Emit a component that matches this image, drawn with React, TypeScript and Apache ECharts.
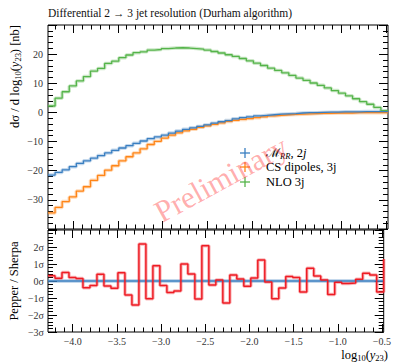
import React, { useEffect, useRef } from 'react';
import * as echarts from 'echarts';

// ---- data ----
const X_MIN = -4.28;
const X_MAX = -0.48;
const N_BINS = 48;

const xMajorTicks = [-4.0, -3.5, -3.0, -2.5, -2.0, -1.5, -1.0, -0.5];
const xMinorTicks = [
  -4.2, -4.1, -3.9, -3.8, -3.7, -3.6, -3.4, -3.3, -3.2, -3.1, -2.9, -2.8, -2.7, -2.6,
  -2.4, -2.3, -2.2, -2.1, -1.9, -1.8, -1.7, -1.6, -1.4, -1.3, -1.2, -1.1, -0.9, -0.8,
  -0.7, -0.6,
];

// dσ/dlog10(y23) [nb]
const nlo3j = [
  2.2, 4.9, 7.1, 9.1, 10.8, 12.3, 14.2, 15.1, 16.8, 17.6,
  18.8, 19.7, 20.5, 20.8, 21.4, 21.6, 21.9, 22.1, 22.2, 22.1,
  21.9, 21.7, 21.4, 20.9, 20.4, 19.8, 19.2, 18.5, 17.7, 16.9,
  16.1, 15.2, 14.4, 13.6, 12.7, 11.8, 11.0, 10.1, 9.3, 8.4,
  7.5, 6.6, 5.7, 4.7, 3.7, 2.8, 1.7, 0.6,
];
const mrr2j = [
  -21.5, -20.6, -19.7, -18.6, -17.5, -16.6, -15.7, -14.8, -13.9, -13.0,
  -12.2, -11.4, -10.6, -9.8, -9.0, -8.4, -7.8, -7.1, -6.4, -5.8,
  -5.3, -4.8, -4.3, -3.7, -3.2, -2.8, -2.2, -1.8, -1.5, -1.2,
  -1.0, -0.8, -0.6, -0.5, -0.4, -0.2, -0.1, -0.1, 0.0, 0.1,
  0.1, 0.2, 0.2, 0.2, 0.3, 0.3, 0.3, 0.3,
];
const csDipoles3j = [
  -34.5, -32.6, -30.6, -29.0, -27.0, -25.5, -23.3, -21.6, -19.8, -18.3,
  -16.6, -15.2, -13.9, -12.5, -11.0, -9.9, -8.8, -7.8, -7.0, -6.3,
  -5.8, -5.1, -4.6, -4.1, -3.6, -3.1, -2.7, -2.4, -2.1, -1.8,
  -1.5, -1.2, -1.0, -0.8, -0.7, -0.6, -0.5, -0.4, -0.3, -0.3,
  -0.2, -0.2, -0.2, -0.1, -0.1, -0.1, -0.1, -0.1,
];
// Pepper / Sherpa deviation in σ
const ratioSigma = [
  0.31, 0.16, 0.5, 0.2, 0.14, -0.4, -0.27, 0.4, -0.3, -0.43,
  0.49, -0.82, -1.41, 2.18, -1.04, 0.9, -0.27, -0.67, -0.59, 1.0,
  0.41, -1.06, 2.08, -0.24, 0.06, -1.29, 0.35, 0.12, -0.31, 0.18,
  1.24, -0.06, -1.04, -0.41, 0.27, 0.2, -0.65, 0.75, 0.29, 0.06,
  -0.8, -0.08, -0.14, -0.12, 0.1, 0.45, 0.35, -0.65, 1.3,
];
const ratioReference = 0;

const topYTicks = { min: -40, max: 30, interval: 10 };
const bottomYTicks = { min: -3, max: 3, interval: 1 };

// ---- styling ----
const SERIF = "'Liberation Serif', 'DejaVu Serif', serif";
const BLUE = '#3a7fc1';
const ORANGE = '#ff8517';
const GREEN = '#55b44a';
const RED = '#ee1c24';

const edges = Array.from({ length: N_BINS + 1 }, (_, i) => X_MIN + (i * (X_MAX - X_MIN)) / N_BINS);
const toStep = (vals: number[]) => {
  const d = vals.map((v, i) => [edges[i], v]);
  if (vals.length === N_BINS) d.push([edges[N_BINS], vals[N_BINS - 1]]);
  return d;
};
const minus = (s: string) => s.replace('-', '\u2212');

function xAxisDef(grid: number, pos: 'top' | 'bottom', major: boolean, labels: boolean) {
  return {
    type: 'value',
    gridIndex: grid,
    position: pos,
    min: X_MIN,
    max: X_MAX,
    axisLine: { show: false, onZero: false },
    splitLine: { show: false },
    axisTick: {
      show: true,
      inside: true,
      length: major ? 8 : 4.5,
      customValues: major ? xMajorTicks : xMinorTicks,
      lineStyle: { color: '#000', width: 1 },
    },
    axisLabel: labels
      ? {
          show: true,
          customValues: xMajorTicks,
          formatter: (v: number) => minus(v.toFixed(1)),
          fontFamily: SERIF,
          fontSize: 10,
          color: '#333',
          margin: 4,
        }
      : { show: false },
  };
}

function yAxisDef(grid: number, pos: 'left' | 'right', t: any, fmt: ((v: number) => string) | null, margin: number) {
  return {
    type: 'value',
    gridIndex: grid,
    position: pos,
    min: t.min,
    max: t.max,
    interval: t.interval,
    axisLine: { show: false, onZero: false },
    splitLine: { show: false },
    axisTick: { show: true, inside: true, length: 9, lineStyle: { color: '#000', width: 1 } },
    minorTick: { show: true, splitNumber: 5, length: 5, lineStyle: { color: '#000', width: 1 } },
    axisLabel: fmt
      ? {
          show: true,
          formatter: fmt,
          showMaxLabel: false,
          fontFamily: SERIF,
          fontSize: 10,
          color: '#333',
          margin,
        }
      : { show: false },
  };
}

function stepPair(name: string, data: number[], color: string, xi: number, yi: number, w = 1.3) {
  return [
    {
      type: 'line',
      name: name + '_halo',
      xAxisIndex: xi,
      yAxisIndex: yi,
      data: toStep(data),
      step: 'end',
      symbol: 'none',
      silent: true,
      lineStyle: { color, width: 3.5, opacity: 0.3 },
      z: 2,
    },
    {
      type: 'line',
      name,
      xAxisIndex: xi,
      yAxisIndex: yi,
      data: toStep(data),
      step: 'end',
      symbol: 'none',
      lineStyle: { color, width: w },
      z: 3,
    },
  ];
}

const legendRows = [
  { text: '{n|\u2133}{s|RR}{n|, 2}{i|j}', color: BLUE, y: 153 },
  { text: '{n|CS dipoles, 3j}', color: ORANGE, y: 167 },
  { text: '{n|NLO 3j}', color: GREEN, y: 182 },
];

function buildOption() {
  const legendGraphics: any[] = [];
  legendRows.forEach((r) => {
    legendGraphics.push({
      type: 'line',
      shape: { x1: 240, y1: r.y, x2: 250, y2: r.y },
      style: { stroke: r.color, lineWidth: 1.3 },
      z: 50,
    });
    legendGraphics.push({
      type: 'line',
      shape: { x1: 245, y1: r.y - 5, x2: 245, y2: r.y + 5 },
      style: { stroke: r.color, lineWidth: 1.3 },
      z: 50,
    });
    legendGraphics.push({
      type: 'text',
      x: 266,
      y: r.y,
      style: {
        text: r.text,
        align: 'left',
        verticalAlign: 'middle',
        fill: '#000',
        rich: {
          n: { fontFamily: SERIF, fontSize: 12.5, lineHeight: 15, fill: '#000' },
          i: { fontFamily: SERIF, fontSize: 12.5, lineHeight: 15, fontStyle: 'italic', fill: '#000' },
          s: { fontFamily: SERIF, fontSize: 8.5, lineHeight: 9, fontStyle: 'italic', verticalAlign: 'bottom', fill: '#000' },
        },
      },
      z: 50,
    });
  });

  const richAxis = {
    n: { fontFamily: SERIF, fontSize: 12.5, lineHeight: 15, fill: '#000' },
    i: { fontFamily: SERIF, fontSize: 12.5, lineHeight: 15, fontStyle: 'italic', fill: '#000' },
    s: { fontFamily: SERIF, fontSize: 8.5, lineHeight: 9, verticalAlign: 'bottom', fill: '#000' },
  };
  const richX = {
    n: { fontFamily: SERIF, fontSize: 12.5, lineHeight: 14, fill: '#000' },
    i: { fontFamily: SERIF, fontSize: 12.5, lineHeight: 14, fontStyle: 'italic', fill: '#000' },
    s: { fontFamily: SERIF, fontSize: 8.5, lineHeight: 8, verticalAlign: 'bottom', fill: '#000' },
  };

  return {
    animation: false,
    backgroundColor: '#fff',
    grid: [
      { left: 48, top: 25, width: 340, height: 204, show: true, borderColor: '#000', borderWidth: 1, backgroundColor: 'transparent' },
      { left: 48, top: 230, width: 340, height: 102, show: true, borderColor: '#000', borderWidth: 1, backgroundColor: 'transparent' },
    ],
    xAxis: [
      xAxisDef(0, 'bottom', true, false),
      xAxisDef(0, 'bottom', false, false),
      xAxisDef(0, 'top', true, false),
      xAxisDef(0, 'top', false, false),
      xAxisDef(1, 'bottom', true, true),
      xAxisDef(1, 'bottom', false, false),
      xAxisDef(1, 'top', true, false),
      xAxisDef(1, 'top', false, false),
    ],
    yAxis: [
      yAxisDef(0, 'left', topYTicks, (v: number) => (v === -40 ? '' : minus(String(v))), 5),
      yAxisDef(0, 'right', topYTicks, null, 5),
      yAxisDef(1, 'left', bottomYTicks, (v: number) => minus(String(v)) + '\u03c3', 4),
      yAxisDef(1, 'right', bottomYTicks, null, 4),
    ],
    series: [
      ...stepPair('NLO 3j', nlo3j, GREEN, 0, 0),
      ...stepPair('CS dipoles, 3j', csDipoles3j, ORANGE, 0, 0),
      ...stepPair('MRR, 2j', mrr2j, BLUE, 0, 0),
      {
        type: 'line',
        name: 'ref_halo',
        xAxisIndex: 4,
        yAxisIndex: 2,
        data: [[X_MIN, ratioReference], [X_MAX, ratioReference]],
        symbol: 'none',
        lineStyle: { color: BLUE, width: 4, opacity: 0.3 },
        z: 2,
      },
      {
        type: 'line',
        name: 'ref',
        xAxisIndex: 4,
        yAxisIndex: 2,
        data: [[X_MIN, ratioReference], [X_MAX, ratioReference]],
        symbol: 'none',
        lineStyle: { color: BLUE, width: 1.5 },
        z: 3,
      },
      ...stepPair('Pepper / Sherpa', ratioSigma, RED, 4, 2, 1.5),
    ],
    graphic: [
      {
        type: 'text',
        x: 48,
        y: 13,
        style: {
          text: 'Differential 2 \u2192 3 jet resolution (Durham algorithm)',
          fontFamily: SERIF,
          fontSize: 11.5,
          fill: '#111',
          align: 'left',
          verticalAlign: 'middle',
        },
      },
      {
        type: 'text',
        x: 15,
        y: 25,
        rotation: Math.PI / 2,
        style: {
          text: '{n|d\u03c3 / d log}{s|10}{n|(}{i|y}{s|23}{n|) [nb]}',
          align: 'right',
          verticalAlign: 'middle',
          rich: richAxis,
        },
      },
      {
        type: 'text',
        x: 14,
        y: 281,
        rotation: Math.PI / 2,
        style: {
          text: 'Pepper / Sherpa',
          fontFamily: SERIF,
          fontSize: 12.5,
          fill: '#000',
          align: 'center',
          verticalAlign: 'middle',
        },
      },
      {
        type: 'text',
        x: 388,
        y: 355,
        style: {
          text: '{n|log}{s|10}{n|(}{i|y}{s|23}{n|)}',
          align: 'right',
          verticalAlign: 'middle',
          rich: richX,
        },
      },
      ...legendGraphics,
      {
        type: 'text',
        x: 221,
        y: 179,
        rotation: 0.5,
        style: {
          text: 'Preliminary',
          fontFamily: SERIF,
          fontSize: 31,
          fill: 'rgba(255, 60, 60, 0.42)',
          align: 'center',
          verticalAlign: 'middle',
        },
        z: 100,
      },
    ],
  };
}

export default function App() {
  const ref = useRef<HTMLDivElement>(null);
  useEffect(() => {
    if (!ref.current) return;
    const chart = echarts.init(ref.current, null, { renderer: 'svg' });
    chart.setOption(buildOption() as any);
    return () => chart.dispose();
  }, []);
  return <div ref={ref} style={{ position: 'fixed', left: 0, top: 0, width: 394, height: 362 }} />;
}
